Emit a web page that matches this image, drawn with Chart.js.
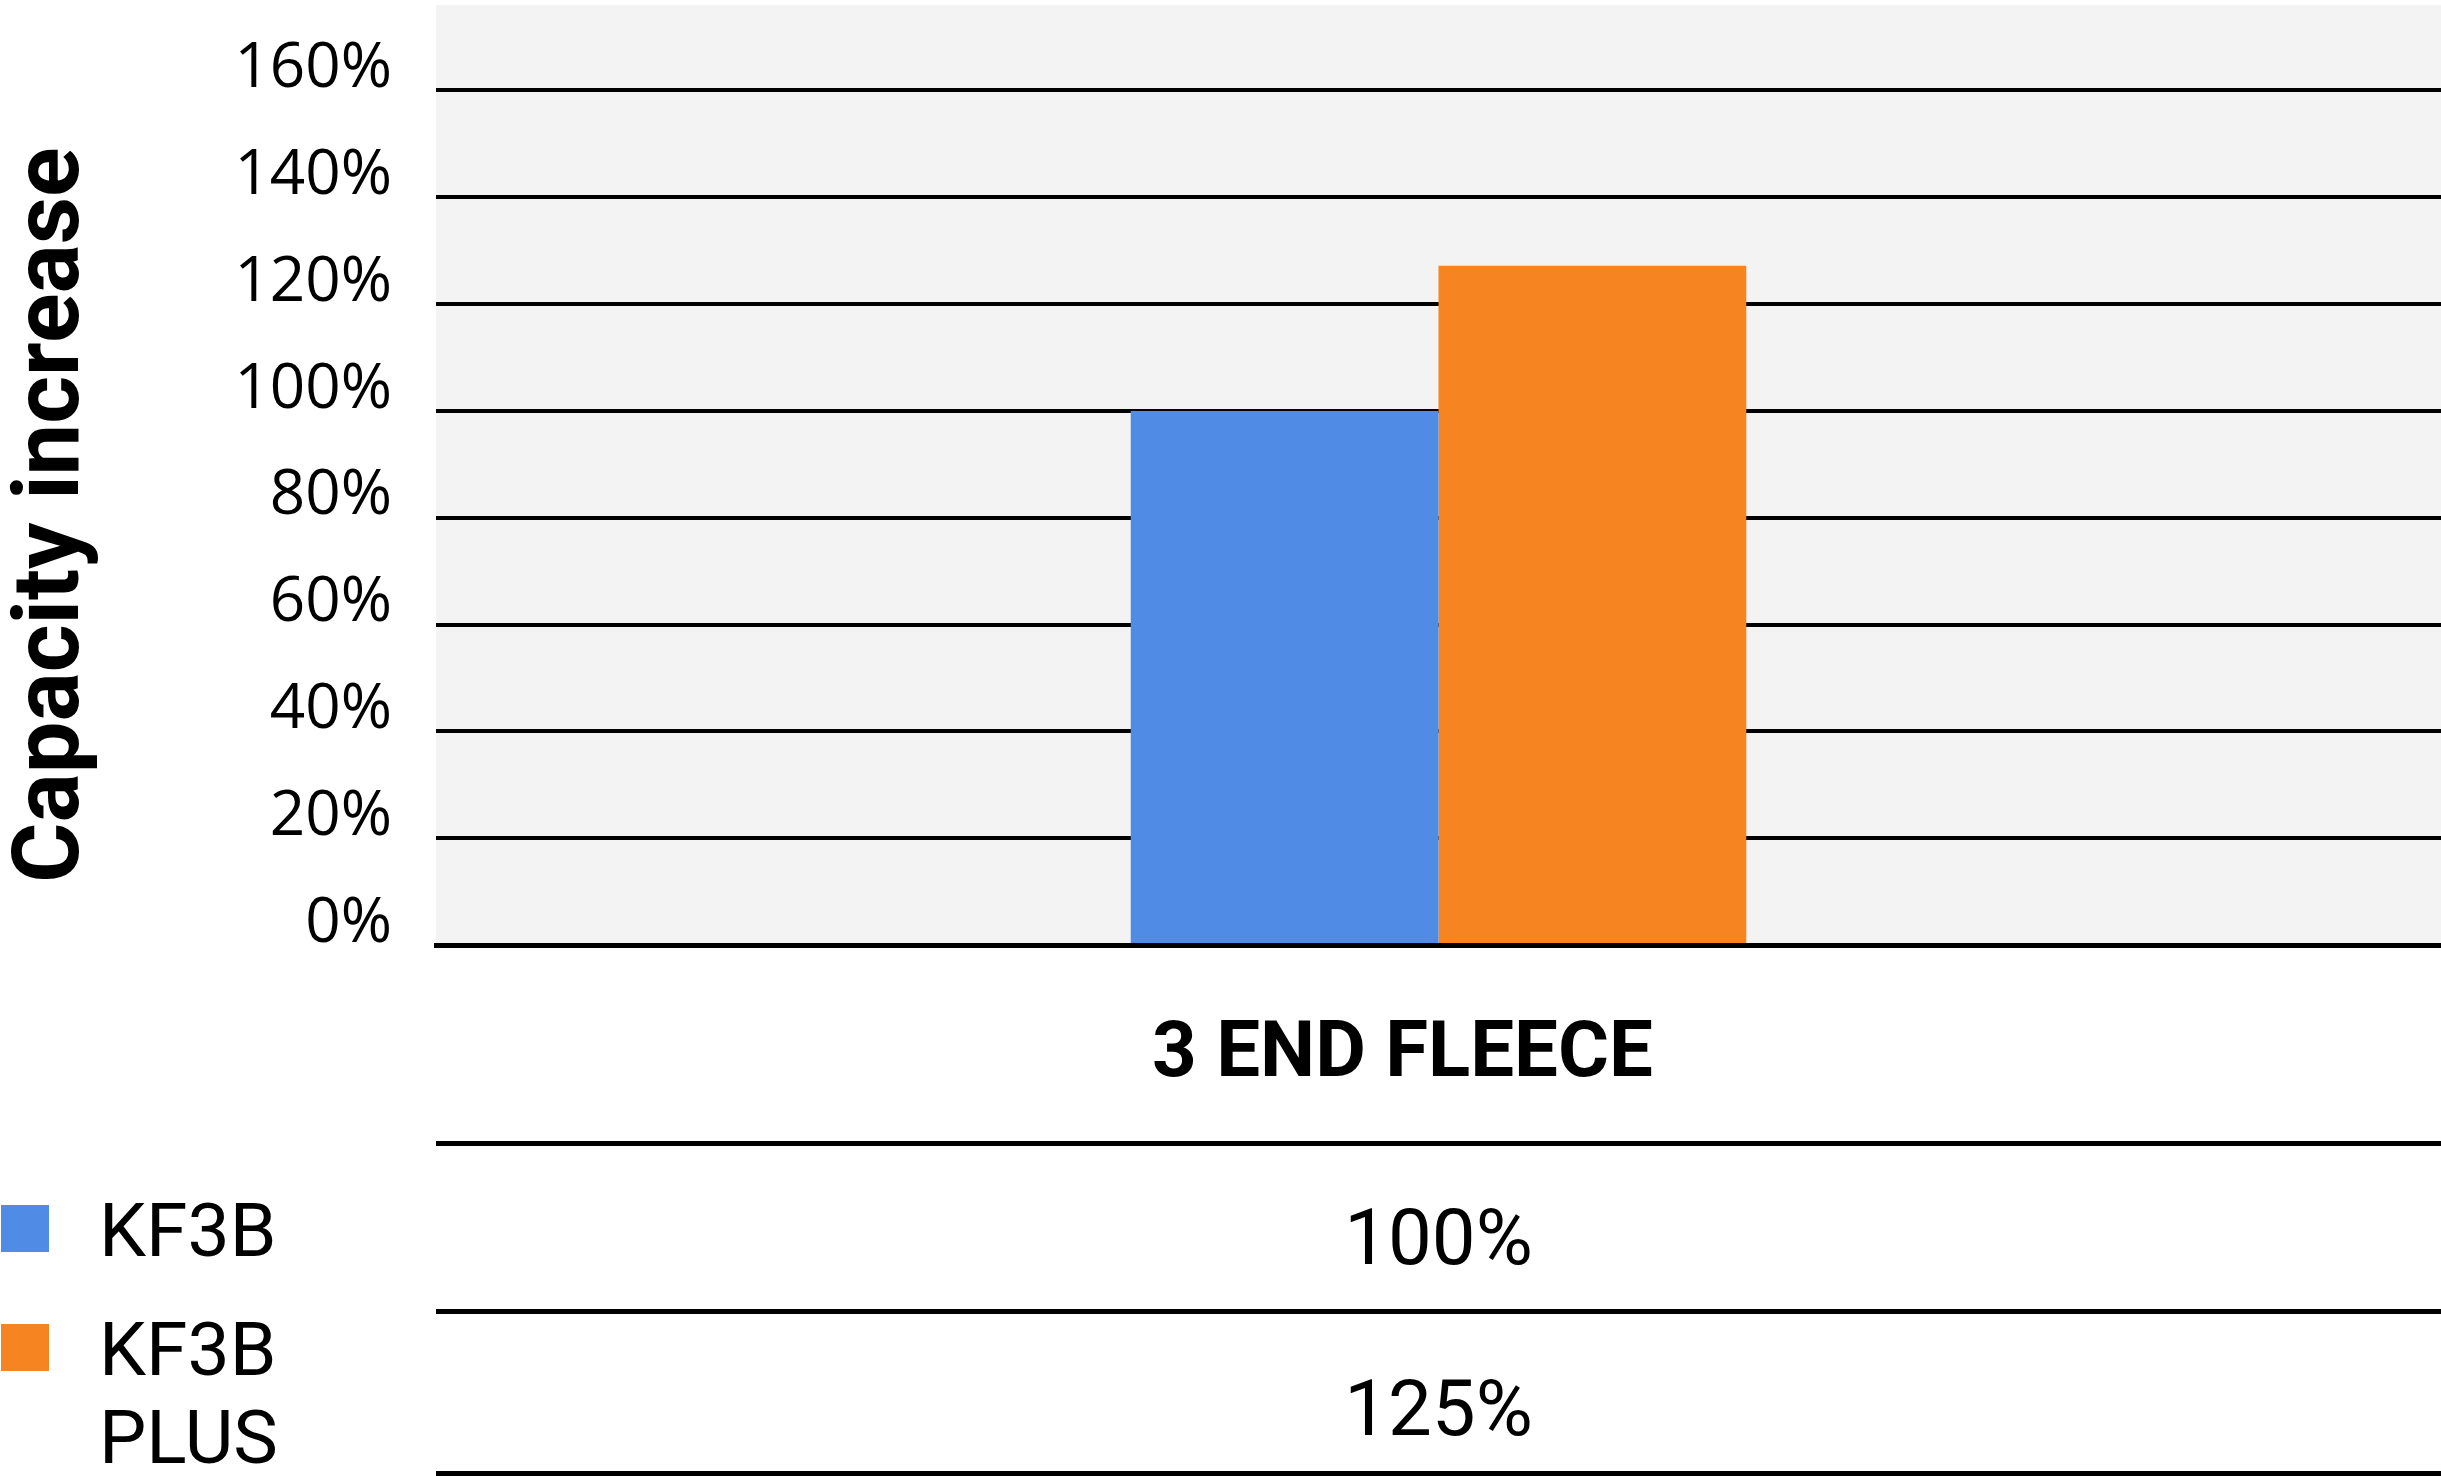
<!DOCTYPE html>
<html><head><meta charset="utf-8">
<script src="https://cdn.jsdelivr.net/npm/chart.js@4"></script>
<style>html,body{margin:0;padding:0;background:#fff;} #wrap{width:2441px;height:1476px;position:relative;}</style>
</head><body><div id="wrap"><canvas id="c" width="2441" height="1476"></canvas></div>
<script>
// ---- data ----
const categories = ['3 END FLEECE'];
const seriesNames = ['KF3B', 'KF3B PLUS'];
const kf3bValues = [100];
const kf3bPlusValues = [127.2];
const tableLabels = ['100%', '125%'];
const yAxisTitle = 'Capacity increase';
const yTickStep = 20;
const yMax = 176;

const seriesColors = ['#508BE6', '#F68421'];

function wrapText(ctx, text, maxW) {
  const words = text.split(' ');
  const lines = [];
  let cur = '';
  words.forEach(w => {
    const t = cur ? cur + ' ' + w : w;
    if (cur && ctx.measureText(t).width > maxW) { lines.push(cur); cur = w; }
    else cur = t;
  });
  if (cur) lines.push(cur);
  return lines;
}

const bgPlugin = {
  id: 'bg',
  beforeDraw(chart) {
    const ctx = chart.ctx, ca = chart.chartArea;
    ctx.save();
    ctx.fillStyle = '#ffffff';
    ctx.fillRect(0, 0, chart.width, chart.height);
    ctx.fillStyle = '#F3F3F3';
    ctx.fillRect(ca.left, ca.top, ca.right - ca.left, ca.bottom - ca.top);
    ctx.restore();
  }
};

const tablePlugin = {
  id: 'dataTable',
  afterDraw(chart) {
    const ctx = chart.ctx, ca = chart.chartArea, xs = chart.scales.x;
    ctx.save();
    // y axis title
    ctx.save();
    ctx.translate(78, 515);
    ctx.rotate(-Math.PI / 2);
    ctx.font = 'bold 92px Roboto';
    ctx.fillStyle = '#000';
    ctx.textAlign = 'center';
    ctx.textBaseline = 'alphabetic';
    ctx.fillText(yAxisTitle, 0, 0);
    ctx.restore();

    // table lines
    ctx.fillStyle = '#000';
    [1141, 1309, 1471].forEach(y => ctx.fillRect(ca.left, y, chart.width - ca.left, 5));

    // values
    const cx = xs.getPixelForValue(0);
    const valueBaselines = [1264, 1435];
    ctx.font = '78px Roboto';
    ctx.textAlign = 'center';
    ctx.textBaseline = 'alphabetic';
    tableLabels.forEach((t, i) => ctx.fillText(t, cx, valueBaselines[i]));

    // legend keys + names
    const firstBaselines = [1256, 1375];
    const lineH = 88;
    ctx.font = '75px Roboto';
    ctx.textAlign = 'left';
    seriesNames.forEach((name, i) => {
      ctx.fillStyle = seriesColors[i];
      ctx.fillRect(1, firstBaselines[i] - 51, 48, 47);
      ctx.fillStyle = '#000';
      wrapText(ctx, name, 230).forEach((ln, j) => ctx.fillText(ln, 99, firstBaselines[i] + j * lineH));
    });
    ctx.restore();
  }
};

new Chart(document.getElementById('c'), {
  type: 'bar',
  data: {
    labels: categories,
    datasets: [
      { label: seriesNames[0], data: kf3bValues, backgroundColor: seriesColors[0], borderWidth: 0 },
      { label: seriesNames[1], data: kf3bPlusValues, backgroundColor: seriesColors[1], borderWidth: 0 }
    ]
  },
  options: {
    responsive: false,
    animation: false,
    devicePixelRatio: 1,
    layout: { padding: { top: 5, left: 0, right: 0, bottom: 333 } },
    plugins: { legend: { display: false }, tooltip: { enabled: false } },
    datasets: { bar: { categoryPercentage: 0.307, barPercentage: 1.0 } },
    scales: {
      x: {
        grid: { display: false, drawTicks: false },
        border: { display: true, color: '#000', width: 5, z: 1 },
        ticks: {
          color: '#000',
          font: { family: 'Roboto', size: 78, weight: 'bold' },
          padding: 65,
          labelOffset: -36,
          maxRotation: 0
        },
        afterFit(scale) { scale.height = 198; scale.paddingLeft = 0; scale.paddingRight = 0; }
      },
      y: {
        min: 0,
        max: yMax,
        grid: { color: '#000', lineWidth: 4, drawTicks: false },
        border: { display: false },
        ticks: {
          stepSize: yTickStep,
          includeBounds: false,
          color: '#000',
          font: { family: 'Open Sans', size: 62 },
          padding: 44,
          labelOffset: -21,
          callback: v => v + '%'
        },
        afterFit(scale) { scale.width = 436; scale.paddingTop = 0; scale.paddingBottom = 0; }
      }
    }
  },
  plugins: [bgPlugin, tablePlugin]
});
</script>
</body></html>
